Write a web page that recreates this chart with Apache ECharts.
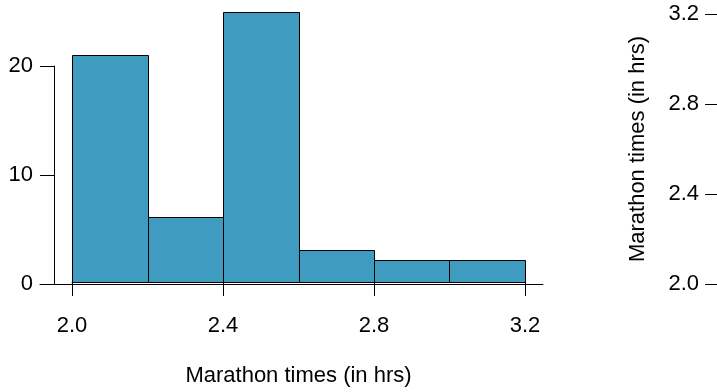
<!DOCTYPE html>
<html>
<head>
<meta charset="utf-8">
<script src="https://cdn.jsdelivr.net/npm/echarts@6/dist/echarts.min.js"></script>
<style>
html,body{margin:0;padding:0;background:#fff;}
#c{width:717px;height:392px;}
</style>
</head>
<body>
<div id="c"></div>
<script>
const binStarts = [2.0, 2.2, 2.4, 2.6, 2.8, 3.0];
const binEnds   = [2.2, 2.4, 2.6, 2.8, 3.0, 3.2];
const counts    = [21, 6, 25, 3, 2, 2];
const xTicks    = [2.0, 2.4, 2.8, 3.2];
const countTicks = [0, 10, 20];
const boxTicks  = [2.0, 2.4, 2.8, 3.2];
const xTitle = 'Marathon times (in hrs)';
const boxTitle = 'Marathon times (in hrs)';

const FONT = 'Liberation Sans, Arial, Helvetica, sans-serif';
const FS = 22;
const histData = binStarts.map((s, i) => [s, binEnds[i], counts[i]]);

const chart = echarts.init(document.getElementById('c'), null, {renderer: 'canvas'});
chart.setOption({
  animation: false,
  backgroundColor: '#fff',
  grid: [
    {left: 72, width: 453, top: 12, height: 272},        // histogram
    {left: 54, width: 10, top: 66, height: 218},         // count axis
    {left: 718, width: 100, top: 14, height: 270},       // right panel axis
    {left: 40, width: 503, top: 0, height: 284}          // baseline
  ],
  xAxis: [
    {gridIndex: 0, type: 'value', min: xTicks[0], max: xTicks[xTicks.length - 1], interval: 0.4,
      offset: 10,
      axisLine: {show: true, lineStyle: {color: '#000', width: 1}},
      axisTick: {show: true, inside: false, length: 14, lineStyle: {color: '#000', width: 1}},
      axisLabel: {show: true, margin: 23, fontSize: FS, fontFamily: FONT, color: '#000',
        formatter: v => v.toFixed(1)},
      splitLine: {show: false},
      name: xTitle, nameLocation: 'middle', nameGap: 73,
      nameTextStyle: {fontSize: FS, fontFamily: FONT, color: '#000'}
    },
    {gridIndex: 1, type: 'value', show: false},
    {gridIndex: 2, type: 'value', show: false},
    {gridIndex: 3, type: 'value', min: 0, max: 1,
      axisLine: {show: true, lineStyle: {color: '#000', width: 1}},
      axisTick: {show: false}, axisLabel: {show: false}, splitLine: {show: false}}
  ],
  yAxis: [
    {gridIndex: 0, type: 'value', min: 0, max: 25, show: false},
    {gridIndex: 1, type: 'value', min: countTicks[0], max: countTicks[countTicks.length - 1], interval: 10,
      position: 'left',
      axisLine: {show: true, lineStyle: {color: '#000', width: 1}},
      axisTick: {show: true, length: 14, lineStyle: {color: '#000', width: 1}},
      axisLabel: {show: true, margin: 21, fontSize: FS, fontFamily: FONT, color: '#000'},
      splitLine: {show: false}
    },
    {gridIndex: 2, type: 'value', min: boxTicks[0], max: boxTicks[boxTicks.length - 1], interval: 0.4,
      position: 'left',
      axisLine: {show: true, lineStyle: {color: '#000', width: 1}},
      axisTick: {show: true, length: 13, lineStyle: {color: '#000', width: 1}},
      axisLabel: {show: true, margin: 19, fontSize: FS, fontFamily: FONT, color: '#000',
        formatter: v => v.toFixed(1)},
      splitLine: {show: false},
      name: boxTitle, nameLocation: 'middle', nameRotate: 90, nameGap: 69,
      nameTextStyle: {fontSize: FS, fontFamily: FONT, color: '#000'}
    },
    {gridIndex: 3, type: 'value', min: 0, max: 1, show: false}
  ],
  series: [
    {
      type: 'custom',
      xAxisIndex: 0, yAxisIndex: 0,
      data: histData,
      renderItem: function (params, api) {
        const p0 = api.coord([api.value(0), 0]);
        const p1 = api.coord([api.value(1), api.value(2)]);
        const x0 = Math.round(p0[0]) + 0.5, x1 = Math.round(p1[0]) + 0.5;
        const yb = Math.round(p0[1]) + 0.5, yt = Math.round(p1[1]) + 0.5;
        return {
          type: 'rect',
          shape: {x: x0, y: yt, width: x1 - x0, height: yb - yt},
          style: {fill: '#3F9BBF', stroke: '#000', lineWidth: 1}
        };
      }
    }
  ]
});
</script>
</body>
</html>
